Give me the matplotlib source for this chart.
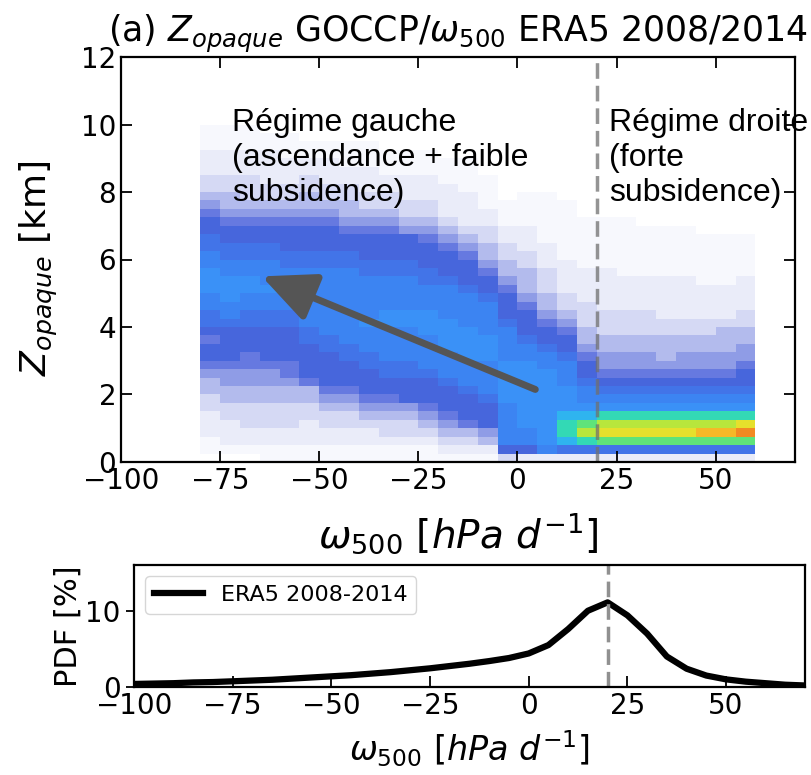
import numpy as np
import matplotlib
matplotlib.use('Agg')
import matplotlib.pyplot as plt
from matplotlib.colors import ListedColormap

# --- data -----------------------------------------------------------------
# 2D histogram Zopaque vs omega500: one string per omega bin (-80..60, step 5),
# each char = colour level of a 0.25 km cell, read bottom (0 km) to top (10 km)
omega_edges = np.arange(-80, 61, 5)
z_edges = np.arange(0, 10.01, 0.25)
level_chars = '0123456789ABCDEFGH'
zop_cols = [
    '0112223344' '5677678899' 'AAA9988776' '5433222111',
    '0122233445' '567777899A' 'AA99887765' '4433222111',
    '0122333445' '5667778899' 'AA99887765' '4333222111',
    '1122333445' '5677778899' 'A999887765' '4332222110',
    '1122333445' '6677778899' 'A998877765' '4332221110',
    '1122233446' '7777889999' '9998877765' '4433221100',
    '1122334567' '7778899999' '9998877765' '4332221100',
    '1122334567' '7788999999' '9998877654' '4332211100',
    '1122345677' '788999A999' '9988777654' '3322211100',
    '1123345677' '889999AA99' '9988777654' '3322111000',
    '1123345777' '889999AA99' '9988777543' '3222111000',
    '1123456777' '89999AAA99' '9887776543' '3222111000',
    '1234567778' '999AAAA999' '9877765432' '2221110000',
    '1234677789' '99AAAA9999' '8777654322' '2211110000',
    '1245777899' '99AAA99998' '7765443322' '1111000000',
    '3799999AAA' 'AA99998777' '6544332211' '1000000000',
    '2799AAAAAA' 'AA99877765' '4443322211' '1100000000',
    '29AAAAAAAA' 'A998776544' '3332221111' '1100000000',
    '28BCCBAAA9' '9987765433' '2222111111' '1000000000',
    '28CEDBA998' '7765443332' '2221111110' '0000000000',
    '28DFECA987' '6554433322' '2221111110' '0000000000',
    '28DFECA987' '6554433322' '2211111110' '0000000000',
    '28DFECA987' '6554433322' '2211111100' '0000000000',
    '28DFECA987' '6544433222' '2211111100' '0000000000',
    '28DFECA987' '6554433222' '2211111100' '0000000000',
    '28DGECA987' '6554433222' '2111111000' '0000000000',
    '28DGECA987' '6554443222' '2111111000' '0000000000',
    '28DHFCA987' '7655443322' '2211111000' '0000000000',
]
level_colors = ['#ffffff', '#f7f8fd', '#eaecf9', '#d5d9f4', '#b3bbed', '#8f9ce6',
                '#6679e0', '#4766dc', '#4274e8', '#3c84f2', '#3a91f7', '#2fb4ef',
                '#33d9b5', '#5fe37a', '#b8e63c', '#e6e02c', '#f5b827', '#f28a22']

# PDF of omega500 (ERA5 2008-2014)
pdf_omega = np.arange(-100, 71, 5)
pdf_vals = [0.4, 0.45, 0.5, 0.6, 0.65, 0.75, 0.85, 0.95, 1.1, 1.25, 1.4, 1.55,
            1.75, 1.95, 2.2, 2.45, 2.75, 3.05, 3.4, 3.8, 4.4, 5.5, 7.6, 10.0,
            11.1, 9.4, 7.0, 4.0, 2.4, 1.5, 1.0, 0.7, 0.5, 0.3, 0.2]

regime_split = 20

# --- figure ---------------------------------------------------------------
W, H = 811, 775
fig = plt.figure(figsize=(W / 100, H / 100), dpi=100)
ax1 = fig.add_axes([121 / W, 1 - 462 / H, 674 / W, 405 / H])
ax2 = fig.add_axes([134 / W, 1 - 687 / H, 671 / W, 122 / H])

grid = np.array([[level_chars.index(c) for c in col] for col in zop_cols]).T
cmap = ListedColormap(level_colors)
ax1.pcolormesh(omega_edges, z_edges, grid, cmap=cmap, vmin=-0.5,
               vmax=len(level_colors) - 0.5, shading='flat', edgecolors='face',
               linewidth=0)
ax1.axvline(regime_split, color='#707070', ls=(0, (4.5, 2)), lw=2.5, alpha=0.75)
ax1.set_xlim(-100, 70)
ax1.set_ylim(0, 12)
ax1.set_xticks([-100, -75, -50, -25, 0, 25, 50])
ax1.set_yticks([0, 2, 4, 6, 8, 10, 12])
ax1.tick_params(direction='in', top=True, right=True, length=8, width=1.3,
                labelsize=20)
for s in ax1.spines.values():
    s.set_linewidth(1.6)
ax1.set_title(r'(a) $Z_{opaque}$ GOCCP/$\omega_{500}$ ERA5 2008/2014',
              fontsize=25, pad=11)
ax1.set_ylabel(r'$Z_{opaque}$ [km]', fontsize=26)
ax1.yaxis.set_label_coords(-0.09, 0.48)
ax1.set_xlabel(r'$\omega_{500}$ $[hPa\ d^{-1}]$', fontsize=28, labelpad=12)

ax1.text(-72, 10.5, 'Régime gauche\n(ascendance + faible\nsubsidence)',
         family='Liberation Sans', fontsize=23, va='top', ha='left',
         linespacing=1.22)
ax1.text(23.2, 10.5, 'Régime droite\n(forte\nsubsidence)',
         family='Liberation Sans', fontsize=23, va='top', ha='left',
         linespacing=1.22)
ax1.annotate('', xy=(-64.5, 5.5), xytext=(4.5, 2.15),
             arrowprops=dict(arrowstyle='-|>,head_length=1.3,head_width=0.6',
                             lw=5, color='#555555', mutation_scale=25,
                             shrinkA=0, shrinkB=0))

ax2.plot(pdf_omega, pdf_vals, color='black', lw=4.5, label='ERA5 2008-2014')
ax2.axvline(regime_split, color='#909090', ls=(0, (4.5, 2)), lw=2.5)
ax2.set_xlim(-100, 70)
ax2.set_ylim(0, 16)
ax2.set_xticks([-100, -75, -50, -25, 0, 25, 50])
ax2.set_yticks([0, 10])
ax2.tick_params(axis='x', direction='in', length=8, width=1.3, labelsize=20)
ax2.tick_params(axis='y', direction='out', length=6, width=1.3, labelsize=20)
for s in ax2.spines.values():
    s.set_linewidth(1.6)
ax2.set_ylabel('PDF [%]', fontsize=22, labelpad=2)
ax2.set_xlabel(r'$\omega_{500}$ $[hPa\ d^{-1}]$', fontsize=24, labelpad=6)
ax2.legend(loc='upper left', fontsize=16, handlelength=2.2, framealpha=0.8)

fig.savefig('out.png', dpi=100)
